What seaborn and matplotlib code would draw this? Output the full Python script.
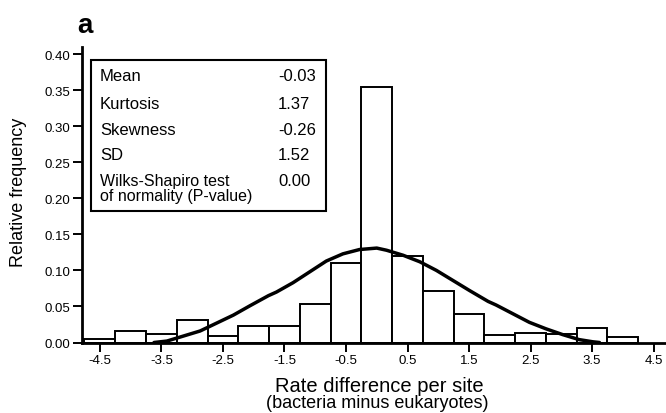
import pandas as pd
import matplotlib
matplotlib.use('Agg')
import matplotlib.pyplot as plt
import seaborn as sns

# histogram bins (centre of each 0.5-wide bin) and relative frequency
bin_centers = [-4.5, -4.0, -3.5, -3.0, -2.5, -2.0, -1.5, -1.0, -0.5, 0.0,
               0.5, 1.0, 1.5, 2.0, 2.5, 3.0, 3.5, 4.0]
rel_freq = [0.005, 0.016, 0.012, 0.031, 0.009, 0.023, 0.023, 0.054, 0.110, 0.354,
            0.120, 0.072, 0.039, 0.011, 0.013, 0.012, 0.020, 0.008]
bin_width = 0.5

# fitted normal curve
curve_x = [-3.62, -3.41, -3.14, -2.87, -2.60, -2.33, -2.06, -1.76, -1.63, -1.36, -1.09,
           -0.82, -0.55, -0.28, 0.00, 0.16, 0.43, 0.70, 0.97, 1.24, 1.51, 1.81,
           1.94, 2.21, 2.48, 2.75, 3.02, 3.29, 3.51, 3.62]
curve_y = [0.000, 0.002, 0.009, 0.016, 0.027, 0.038, 0.051, 0.065, 0.070, 0.083, 0.098,
           0.113, 0.123, 0.129, 0.131, 0.128, 0.121, 0.112, 0.100, 0.086, 0.072, 0.057,
           0.052, 0.040, 0.028, 0.019, 0.011, 0.004, 0.001, 0.000]

stat_names = ['Mean', 'Kurtosis', 'Skewness', 'SD', 'Wilks-Shapiro test']
stat_values = ['-0.03', '1.37', '-0.26', '1.52', '0.00']
stat_note = 'of normality (P-value)'

x_ticks = [-4.5, -3.5, -2.5, -1.5, -0.5, 0.5, 1.5, 2.5, 3.5, 4.5]
y_ticks = [0.00, 0.05, 0.10, 0.15, 0.20, 0.25, 0.30, 0.35, 0.40]

df_hist = pd.DataFrame({'x': bin_centers, 'w': rel_freq})
df_curve = pd.DataFrame({'x': curve_x, 'y': curve_y})

sns.set_style('ticks', {'axes.edgecolor': 'black', 'text.color': 'black',
                        'xtick.color': 'black', 'ytick.color': 'black',
                        'axes.labelcolor': 'black'})
plt.rcParams['font.family'] = ['Liberation Sans', 'DejaVu Sans']

W, H = 666, 414
fig = plt.figure(figsize=(6.66, 4.14), dpi=100)
ax = fig.add_axes([82 / W, 1 - 343.5 / H, 0.999 - 82 / W, (343.5 - 48) / H])

edges = [c - bin_width / 2 for c in bin_centers] + [bin_centers[-1] + bin_width / 2]
sns.histplot(data=df_hist, x='x', weights='w', bins=edges, stat='count',
             color='white', edgecolor='black', linewidth=1.4, alpha=1, ax=ax)
sns.lineplot(data=df_curve, x='x', y='y', sort=False, estimator=None,
             color='black', linewidth=2.5, ax=ax)

ax.set_xlim(-4.79, 4.69)
ax.set_ylim(0, 0.41)
ax.set_xticks(x_ticks)
ax.set_xticklabels([f'{t:.1f}' for t in x_ticks])
ax.set_yticks(y_ticks)
ax.set_yticklabels([f'{t:.2f}' for t in y_ticks])
ax.tick_params(direction='out', length=6.5, width=1.4, labelsize=9.5, pad=2)
for s in ['top', 'right']:
    ax.spines[s].set_visible(False)
for s in ['left', 'bottom']:
    ax.spines[s].set_linewidth(2)
ax.set_xlabel('')
ax.set_ylabel('')

fig.text(19 / W, 1 - 192 / H, 'Relative frequency', fontsize=13, rotation=90,
         ha='center', va='center')
fig.text(379 / W, 1 - 392 / H, 'Rate difference per site', fontsize=14.5,
         ha='center', va='baseline')
fig.text(377 / W, 1 - 408 / H, '(bacteria minus eukaryotes)', fontsize=13,
         ha='center', va='baseline')
fig.text(85 / W, 1 - 33 / H, 'a', fontsize=20, fontweight='bold',
         ha='center', va='baseline')

# stats box
box = plt.Rectangle((91 / W, 1 - 212 / H), (326 - 91) / W, (212 - 61) / H,
                    transform=fig.transFigure, facecolor='white', edgecolor='black',
                    linewidth=1.5, zorder=5)
fig.patches.append(box)
row_base = [81, 109, 135, 160, 186]
for name, val, yb in zip(stat_names, stat_values, row_base):
    fs = 12 if name != stat_names[-1] else 11.5
    fig.text(100 / W, 1 - yb / H, name, fontsize=fs, ha='left', va='baseline', zorder=6)
    fig.text(278 / W, 1 - yb / H, val, fontsize=12, ha='left', va='baseline', zorder=6)
fig.text(100 / W, 1 - 201 / H, stat_note, fontsize=11.5, ha='left', va='baseline', zorder=6)

plt.savefig('out.png', dpi=100)
